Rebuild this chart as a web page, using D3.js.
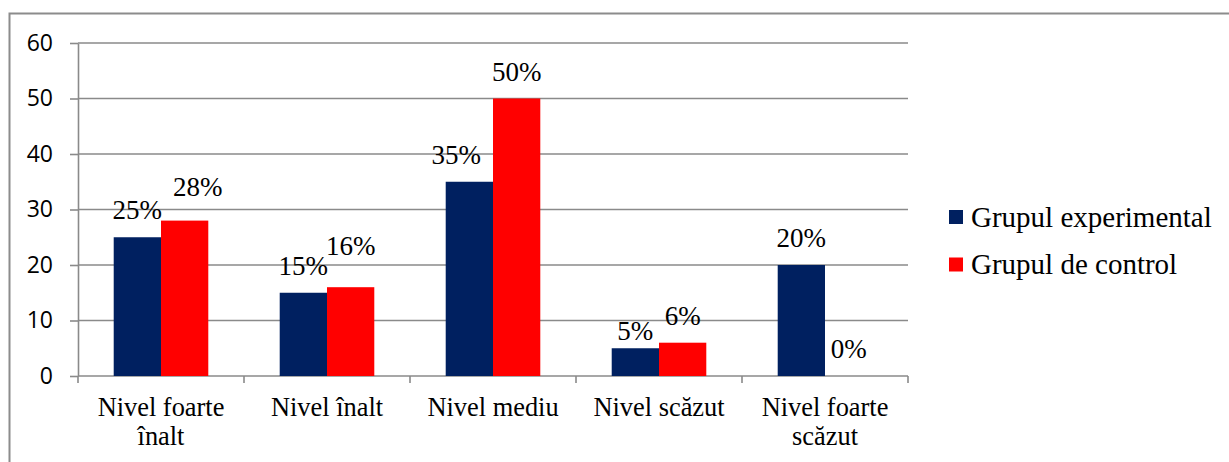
<html>
<head>
<meta charset="utf-8">
<style>
    body { margin: 0; background: #fff; }
    svg { display: block; }
    .serif { font-family: "Times New Roman", "Liberation Serif", Tinos, "DejaVu Serif", serif; }
</style>
</head>
<body>
<script src="https://d3js.org/d3.v7.min.js"></script>
<script>

    // chart values
    var categories = [["Nivel foarte", "înalt"], ["Nivel înalt"], ["Nivel mediu"], ["Nivel scăzut"], ["Nivel foarte", "scăzut"]];
    var seriesNames = ["Grupul experimental", "Grupul de control"];
    var experimental = [25, 15, 35, 5, 20];
    var control = [28, 16, 50, 6, 0];
    var yTicks = [0, 10, 20, 30, 40, 50, 60];

    // manual label nudges (as placed in the original chart)
    var nudgeX = [[0, 0, -13, 0, 0], [13, 0, 0, 0, 0]];
    var nudgeY = [[0, 0, 0, 10, 0], [-7, -14, 0, 0, 0]];

    var colors = ["#002060", "#ff0000"];
    var W = 1229, H = 462;
    var plotLeft = 78, plotRight = 908, plotTop = 43, plotBottom = 376;

    var svg = d3.select("body").append("svg")
        .attr("width", W)
        .attr("height", H);

    svg.append("rect")
        .attr("width", W).attr("height", H)
        .attr("fill", "#fff");

    // outer chart border (only top/left fall inside the picture)
    svg.append("rect")
        .attr("x", 9.5).attr("y", 13.5)
        .attr("width", W + 20).attr("height", H + 20)
        .attr("fill", "none")
        .attr("stroke", "#8c8c8c")
        .attr("stroke-width", 2);

    var keys = categories.map(function(d) { return d.join(" "); });

    var x = d3.scaleBand()
        .domain(keys)
        .range([plotLeft, plotRight]);

    var xs = d3.scaleBand()
        .domain([0, 1])
        .range([0, x.bandwidth()])
        .paddingInner(0)
        .paddingOuter(0.755);

    var y = d3.scaleLinear()
        .domain([0, 60])
        .range([plotBottom, plotTop]);

    // gridlines
    svg.append("g").selectAll("line")
        .data(yTicks)
        .enter().append("line")
        .attr("x1", plotLeft).attr("x2", plotRight)
        .attr("y1", function(d) { return y(d); })
        .attr("y2", function(d) { return y(d); })
        .attr("stroke", "#8a8a8a")
        .attr("stroke-width", 1.6);

    // y axis
    var yAxis = svg.append("g")
        .attr("transform", "translate(" + plotLeft + ",0)")
        .call(d3.axisLeft(y).tickValues(yTicks).tickSize(8).tickPadding(17).tickSizeOuter(0));
    yAxis.select(".domain").attr("stroke", "#8a8a8a").attr("stroke-width", 1.6);
    yAxis.selectAll(".tick line").attr("stroke", "#8a8a8a").attr("stroke-width", 1.6);
    yAxis.selectAll(".tick text")
        .attr("font-family", "'Open Sans', sans-serif")
        .attr("font-size", "23px")
        .attr("fill", "#000");

    // x axis boundary ticks
    var bounds = keys.map(function(k) { return x(k); }).concat([plotRight]);
    svg.append("g").selectAll("line")
        .data(bounds)
        .enter().append("line")
        .attr("x1", function(d) { return d; })
        .attr("x2", function(d) { return d; })
        .attr("y1", plotBottom).attr("y2", plotBottom + 7)
        .attr("stroke", "#8a8a8a")
        .attr("stroke-width", 1.6);

    // category labels
    var catG = svg.append("g").selectAll("text")
        .data(categories)
        .enter().append("text")
        .attr("class", "serif")
        .attr("text-anchor", "middle")
        .attr("font-size", "26.4px")
        .attr("fill", "#000")
        .attr("transform", function(d, i) { return "translate(" + (x(keys[i]) + x.bandwidth() / 2) + "," + 416 + ")"; });
    catG.selectAll("tspan")
        .data(function(d) { return d; })
        .enter().append("tspan")
        .attr("x", 0)
        .attr("y", function(d, i) { return i * 29; })
        .text(function(d) { return d; });

    // bars
    var series = [experimental, control];
    series.forEach(function(vals, s) {
        var g = svg.append("g");
        g.selectAll("rect")
            .data(vals)
            .enter().append("rect")
            .attr("x", function(d, i) { return x(keys[i]) + xs(s); })
            .attr("y", function(d) { return y(d); })
            .attr("width", xs.bandwidth())
            .attr("height", function(d) { return y(0) - y(d); })
            .attr("fill", colors[s]);

        g.selectAll("text")
            .data(vals)
            .enter().append("text")
            .attr("class", "serif")
            .attr("text-anchor", "middle")
            .attr("x", function(d, i) { return x(keys[i]) + xs(s) + xs.bandwidth() / 2 + nudgeX[s][i]; })
            .attr("y", function(d, i) { return y(d) - 18 + nudgeY[s][i]; })
            .attr("font-size", "27px")
            .attr("fill", "#000")
            .text(function(d) { return d + "%"; });
    });

    // legend
    var legend = svg.append("g").selectAll("g")
        .data(seriesNames)
        .enter().append("g")
        .attr("transform", function(d, i) { return "translate(949," + (210 + i * 47.5) + ")"; });
    legend.append("rect")
        .attr("width", 14).attr("height", 14)
        .attr("fill", function(d, i) { return colors[i]; });
    legend.append("text")
        .attr("class", "serif")
        .attr("x", 22).attr("y", 16.5)
        .attr("font-size", "29px")
        .attr("fill", "#000")
        .text(function(d) { return d; });

</script>
</body>
</html>
